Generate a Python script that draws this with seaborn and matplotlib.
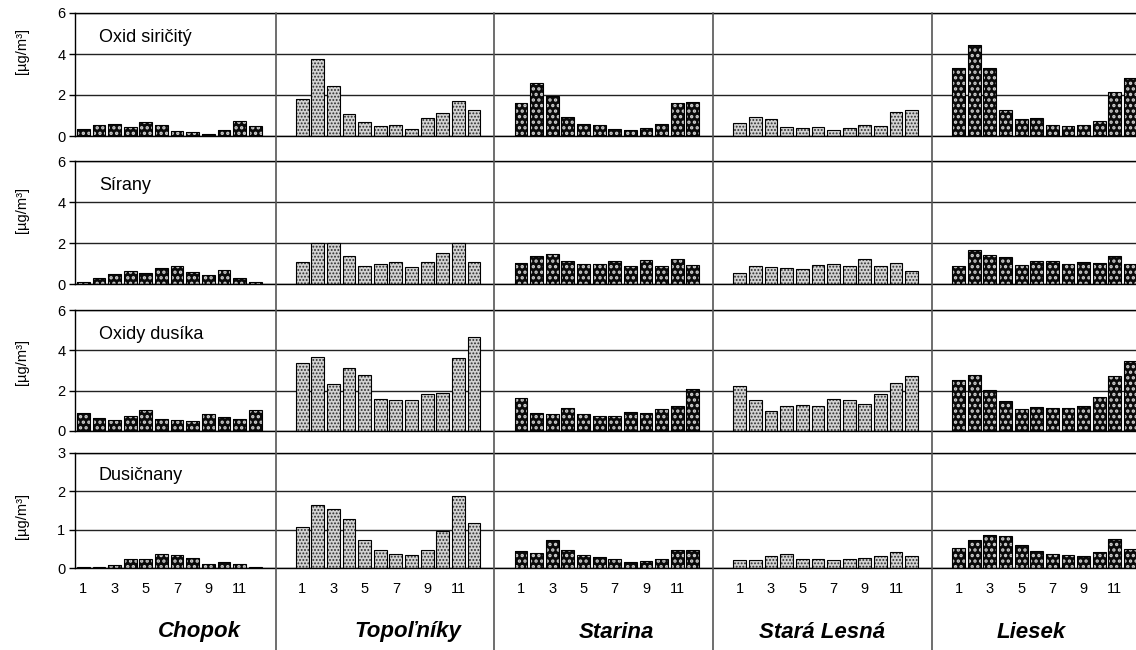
import matplotlib
matplotlib.use("Agg")
import matplotlib.pyplot as plt
import matplotlib.transforms as mtransforms
from matplotlib.lines import Line2D
from matplotlib.patches import Rectangle
import pandas as pd
import seaborn as sns

# ---------------- data ----------------
stations = ["Chopok", "Topoľníky", "Starina", "Stará Lesná", "Liesek"]
light_stations = ["Topoľníky", "Stará Lesná"]
pollutants = ["Oxid siričitý", "Sírany", "Oxidy dusíka", "Dusičnany"]
months = list(range(1, 13))
month_ticks = [1, 3, 5, 7, 9, 11]
unit_label = "[µg/m³]"
y_ticks_rows = [[0, 2, 4, 6], [0, 2, 4, 6], [0, 2, 4, 6], [0, 1, 2, 3]]

so2_chopok = [0.34, 0.54, 0.59, 0.44, 0.67, 0.54, 0.24, 0.20, 0.11, 0.29, 0.73, 0.47]
so2_topolniky = [1.80, 3.74, 2.42, 1.06, 0.67, 0.49, 0.52, 0.33, 0.88, 1.12, 1.71, 1.27]
so2_starina = [1.61, 2.59, 1.97, 0.93, 0.59, 0.54, 0.36, 0.29, 0.39, 0.59, 1.61, 1.66]
so2_stara_lesna = [0.63, 0.93, 0.83, 0.44, 0.39, 0.44, 0.29, 0.39, 0.54, 0.49, 1.17, 1.27]
so2_liesek = [3.32, 4.46, 3.32, 1.27, 0.83, 0.88, 0.54, 0.49, 0.54, 0.73, 2.15, 2.83]

so4_chopok = [0.10, 0.29, 0.49, 0.65, 0.55, 0.80, 0.89, 0.60, 0.46, 0.70, 0.31, 0.10]
so4_topolniky = [1.09, 1.99, 1.99, 1.38, 0.89, 0.99, 1.09, 0.85, 1.09, 1.53, 1.99, 1.09]
so4_starina = [1.04, 1.38, 1.48, 1.14, 0.99, 0.99, 1.14, 0.89, 1.19, 0.89, 1.24, 0.94]
so4_stara_lesna = [0.54, 0.89, 0.85, 0.80, 0.75, 0.94, 0.99, 0.89, 1.24, 0.89, 1.04, 0.65]
so4_liesek = [0.89, 1.67, 1.43, 1.33, 0.94, 1.14, 1.14, 0.99, 1.09, 1.04, 1.38, 0.99]

nox_chopok = [0.89, 0.64, 0.54, 0.74, 1.03, 0.59, 0.54, 0.49, 0.84, 0.69, 0.59, 1.03]
nox_topolniky = [3.39, 3.69, 2.31, 3.10, 2.80, 1.57, 1.52, 1.52, 1.82, 1.87, 3.64, 4.67]
nox_starina = [1.62, 0.89, 0.84, 1.13, 0.84, 0.74, 0.74, 0.93, 0.89, 1.08, 1.23, 2.07]
nox_stara_lesna = [2.21, 1.52, 0.98, 1.23, 1.28, 1.23, 1.57, 1.52, 1.33, 1.82, 2.36, 2.75]
nox_liesek = [2.51, 2.80, 2.02, 1.48, 1.08, 1.18, 1.13, 1.13, 1.23, 1.67, 2.75, 3.49]

no3_chopok = [0.02, 0.02, 0.07, 0.23, 0.24, 0.36, 0.33, 0.25, 0.10, 0.15, 0.10, 0.02]
no3_topolniky = [1.06, 1.64, 1.53, 1.29, 0.73, 0.48, 0.36, 0.33, 0.46, 0.97, 1.89, 1.18]
no3_starina = [0.45, 0.38, 0.73, 0.46, 0.33, 0.28, 0.23, 0.16, 0.17, 0.23, 0.46, 0.46]
no3_stara_lesna = [0.20, 0.20, 0.31, 0.36, 0.24, 0.24, 0.20, 0.23, 0.25, 0.31, 0.42, 0.31]
no3_liesek = [0.52, 0.73, 0.87, 0.83, 0.59, 0.45, 0.36, 0.33, 0.31, 0.41, 0.75, 0.49]

table = {
    "Oxid siričitý": [so2_chopok, so2_topolniky, so2_starina, so2_stara_lesna, so2_liesek],
    "Sírany": [so4_chopok, so4_topolniky, so4_starina, so4_stara_lesna, so4_liesek],
    "Oxidy dusíka": [nox_chopok, nox_topolniky, nox_starina, nox_stara_lesna, nox_liesek],
    "Dusičnany": [no3_chopok, no3_topolniky, no3_starina, no3_stara_lesna, no3_liesek],
}

BLOCK = 14  # slots per station block (12 months + gap)
rows = []
for pol in pollutants:
    for si, st in enumerate(stations):
        for m, v in zip(months, table[pol][si]):
            rows.append({"pollutant": pol, "station": st, "month": m,
                         "pos": si * BLOCK + (m - 1), "value": v})
df = pd.DataFrame(rows)

# ---------------- style ----------------
sns.set_style("white")
plt.rcParams["font.family"] = ["Liberation Sans", "DejaVu Sans"]
for key in ["text.color", "axes.labelcolor", "xtick.color", "ytick.color",
            "xtick.labelcolor", "ytick.labelcolor"]:
    plt.rcParams[key] = "black"
plt.rcParams["hatch.linewidth"] = 1.0

W, H = 1136, 650
fig = plt.figure(figsize=(W / 100, H / 100), dpi=100)

row_px = [(13, 136), (161, 284), (310, 431), (453, 568)]
ylabel_y = [0.69, 0.60, 0.57, 0.45]
left_px = 75
xlim = (-0.53, 67.35)

axes = []
for r, pol in enumerate(pollutants):
    top, bot = row_px[r]
    ax = fig.add_axes([left_px / W, 1 - bot / H, (W - left_px) / W, (bot - top) / H])
    axes.append(ax)
    sub = df[df["pollutant"] == pol]
    sns.barplot(data=sub, x="pos", y="value", native_scale=True, width=0.82,
                color="black", errorbar=None, ax=ax)
    outlines = []
    for p in list(ax.patches):
        cx = p.get_x() + p.get_width() / 2
        st = stations[int(round(cx)) // BLOCK]
        if st in light_stations:
            p.set_facecolor("#d2d2d2")
            p.set_hatch(".....")
            p.set_edgecolor("#2e2e2e")
            hlw = 0.9
        else:
            p.set_facecolor("#0a0a0a")
            p.set_hatch("...")
            p.set_edgecolor("#d0d0d0")
            hlw = 1.6
        if hasattr(p, "set_hatch_linewidth"):
            p.set_hatch_linewidth(hlw)
        p.set_linewidth(0)
        outlines.append(Rectangle((p.get_x(), p.get_y()), p.get_width(), p.get_height(),
                                  fill=False, edgecolor="black", linewidth=0.8, zorder=3))
    for o in outlines:
        ax.add_patch(o)

    yt = y_ticks_rows[r]
    ax.set_ylim(yt[0], yt[-1])
    ax.set_yticks(yt)
    ax.set_yticklabels([str(t) for t in yt], fontsize=10.5, color="black")
    ax.set_xlim(*xlim)
    ax.yaxis.grid(True, color="#222222", linewidth=1.0)
    ax.set_axisbelow(True)
    ax.tick_params(axis="y", direction="out", length=4, width=1, color="black", pad=3, left=True)
    ax.spines["right"].set_visible(False)
    for side in ["left", "bottom", "top"]:
        ax.spines[side].set_color("black")
        ax.spines[side].set_linewidth(1.0)
    ax.set_ylabel(unit_label, fontsize=10.5, color="black")
    ax.yaxis.set_label_coords((29 - left_px) / (W - left_px), ylabel_y[r])
    ax.set_xlabel("")
    ax.text(0.0226, 0.80, pol, transform=ax.transAxes, fontsize=13, va="center",
            ha="left", color="black")

    if r == len(pollutants) - 1:
        xt, xl = [], []
        for si in range(len(stations)):
            for m in month_ticks:
                xt.append(si * BLOCK + m - 1)
                xl.append(str(m))
        ax.set_xticks(xt)
        ax.set_xticklabels(xl, fontsize=10.5, color="black")
        ax.tick_params(axis="x", length=0, pad=10)
    else:
        ax.set_xticks([])

# station dividers spanning all rows
ax_ref = axes[-1]
trans = mtransforms.blended_transform_factory(ax_ref.transData, fig.transFigure)
for k in range(1, len(stations)):
    xd = k * BLOCK - 1.7
    fig.add_artist(Line2D([xd, xd], [1 - 13 / H, 0], transform=trans,
                          color="#555555", linewidth=1.2))

# station names
name_px = [199, 408, 616, 822, 1031]
for st, px in zip(stations, name_px):
    fig.text(px / W, 1 - 632 / H, st, ha="center", va="center", color="black",
             fontsize=16, fontweight="bold", fontstyle="italic")

fig.savefig("out.png", dpi=100)
